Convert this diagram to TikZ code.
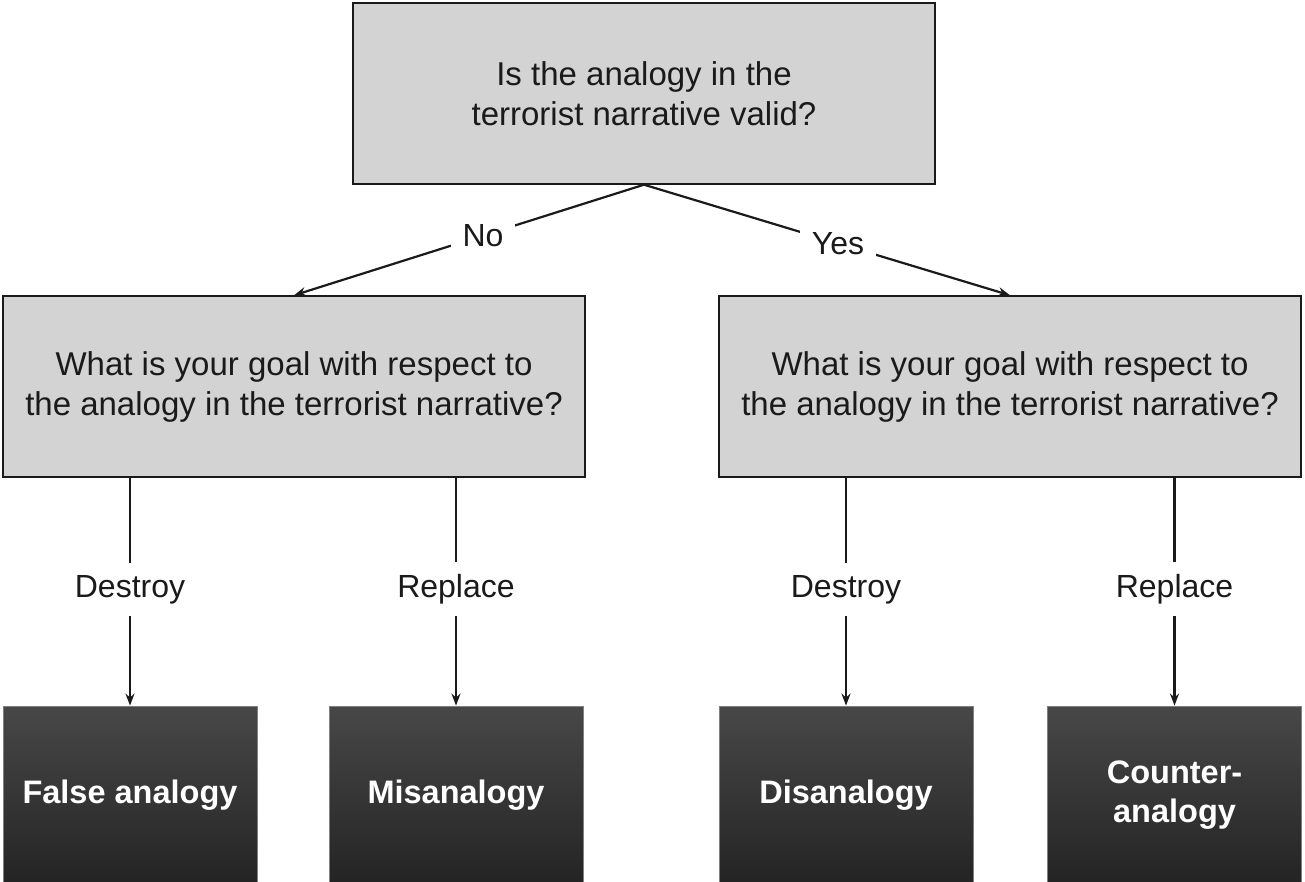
\documentclass[tikz,border=0pt]{standalone}
\usepackage{fontspec}
\setmainfont{Liberation Sans}
\usetikzlibrary{arrows.meta}
\definecolor{boxgray}{HTML}{D3D3D3}
\definecolor{txt}{HTML}{1A1A1A}
\begin{document}
\begin{tikzpicture}[x=1pt,y=-1pt,
  qbox/.style={draw=txt, line width=1.4pt, fill=boxgray, minimum width=582pt, minimum height=181pt, align=center, text=txt, font=\fontsize{33}{40}\selectfont, inner sep=0pt},
  abox/.style={draw=gray, line width=0.8pt, top color=black!72, bottom color=black!86, minimum width=254pt, minimum height=178pt, align=center, text=white, font=\fontsize{32.5}{39}\selectfont\bfseries, inner sep=0pt},
  conn/.style={line width=2.2pt, draw=txt, -{Stealth[length=12pt,width=9pt]}},
  lab/.style={fill=white, text=txt, font=\fontsize{32}{36}\selectfont, inner xsep=12pt, inner ysep=6pt},
  vlab/.style={lab, inner ysep=12pt}]
\useasboundingbox (0,0) rectangle (1305,882);
\begin{scope}
\clip (0,0) rectangle (1305,882);
\node[qbox] (top) at (644,93.5) {Is the analogy in the\\terrorist narrative valid?};
\node[qbox] (lm) at (294,386.5) {What is your goal with respect to\\the analogy in the terrorist narrative?};
\node[qbox] (rm) at (1010,386.5) {What is your goal with respect to\\the analogy in the terrorist narrative?};
\node[abox] (fa) at (130,795) {False analogy};
\node[abox] (mis) at (456,795) {Misanalogy};
\node[abox] (dis) at (846,795) {Disanalogy};
\node[abox] (ca) at (1174.5,795) {Counter-\\analogy};
\end{scope}
\draw[conn] (top.south) -- node[lab, pos=0.46] {No} (lm.north);
\draw[conn] (top.south) -- node[lab, pos=0.53] {Yes} (rm.north);
\draw[conn] (fa.north |- lm.south) -- node[vlab, pos=0.49] {Destroy} (fa.north);
\draw[conn] (mis.north |- lm.south) -- node[vlab, pos=0.49] {Replace} (mis.north);
\draw[conn] (dis.north |- rm.south) -- node[vlab, pos=0.49] {Destroy} (dis.north);
\draw[conn] (ca.north |- rm.south) -- node[vlab, pos=0.49] {Replace} (ca.north);
\end{tikzpicture}
\end{document}
